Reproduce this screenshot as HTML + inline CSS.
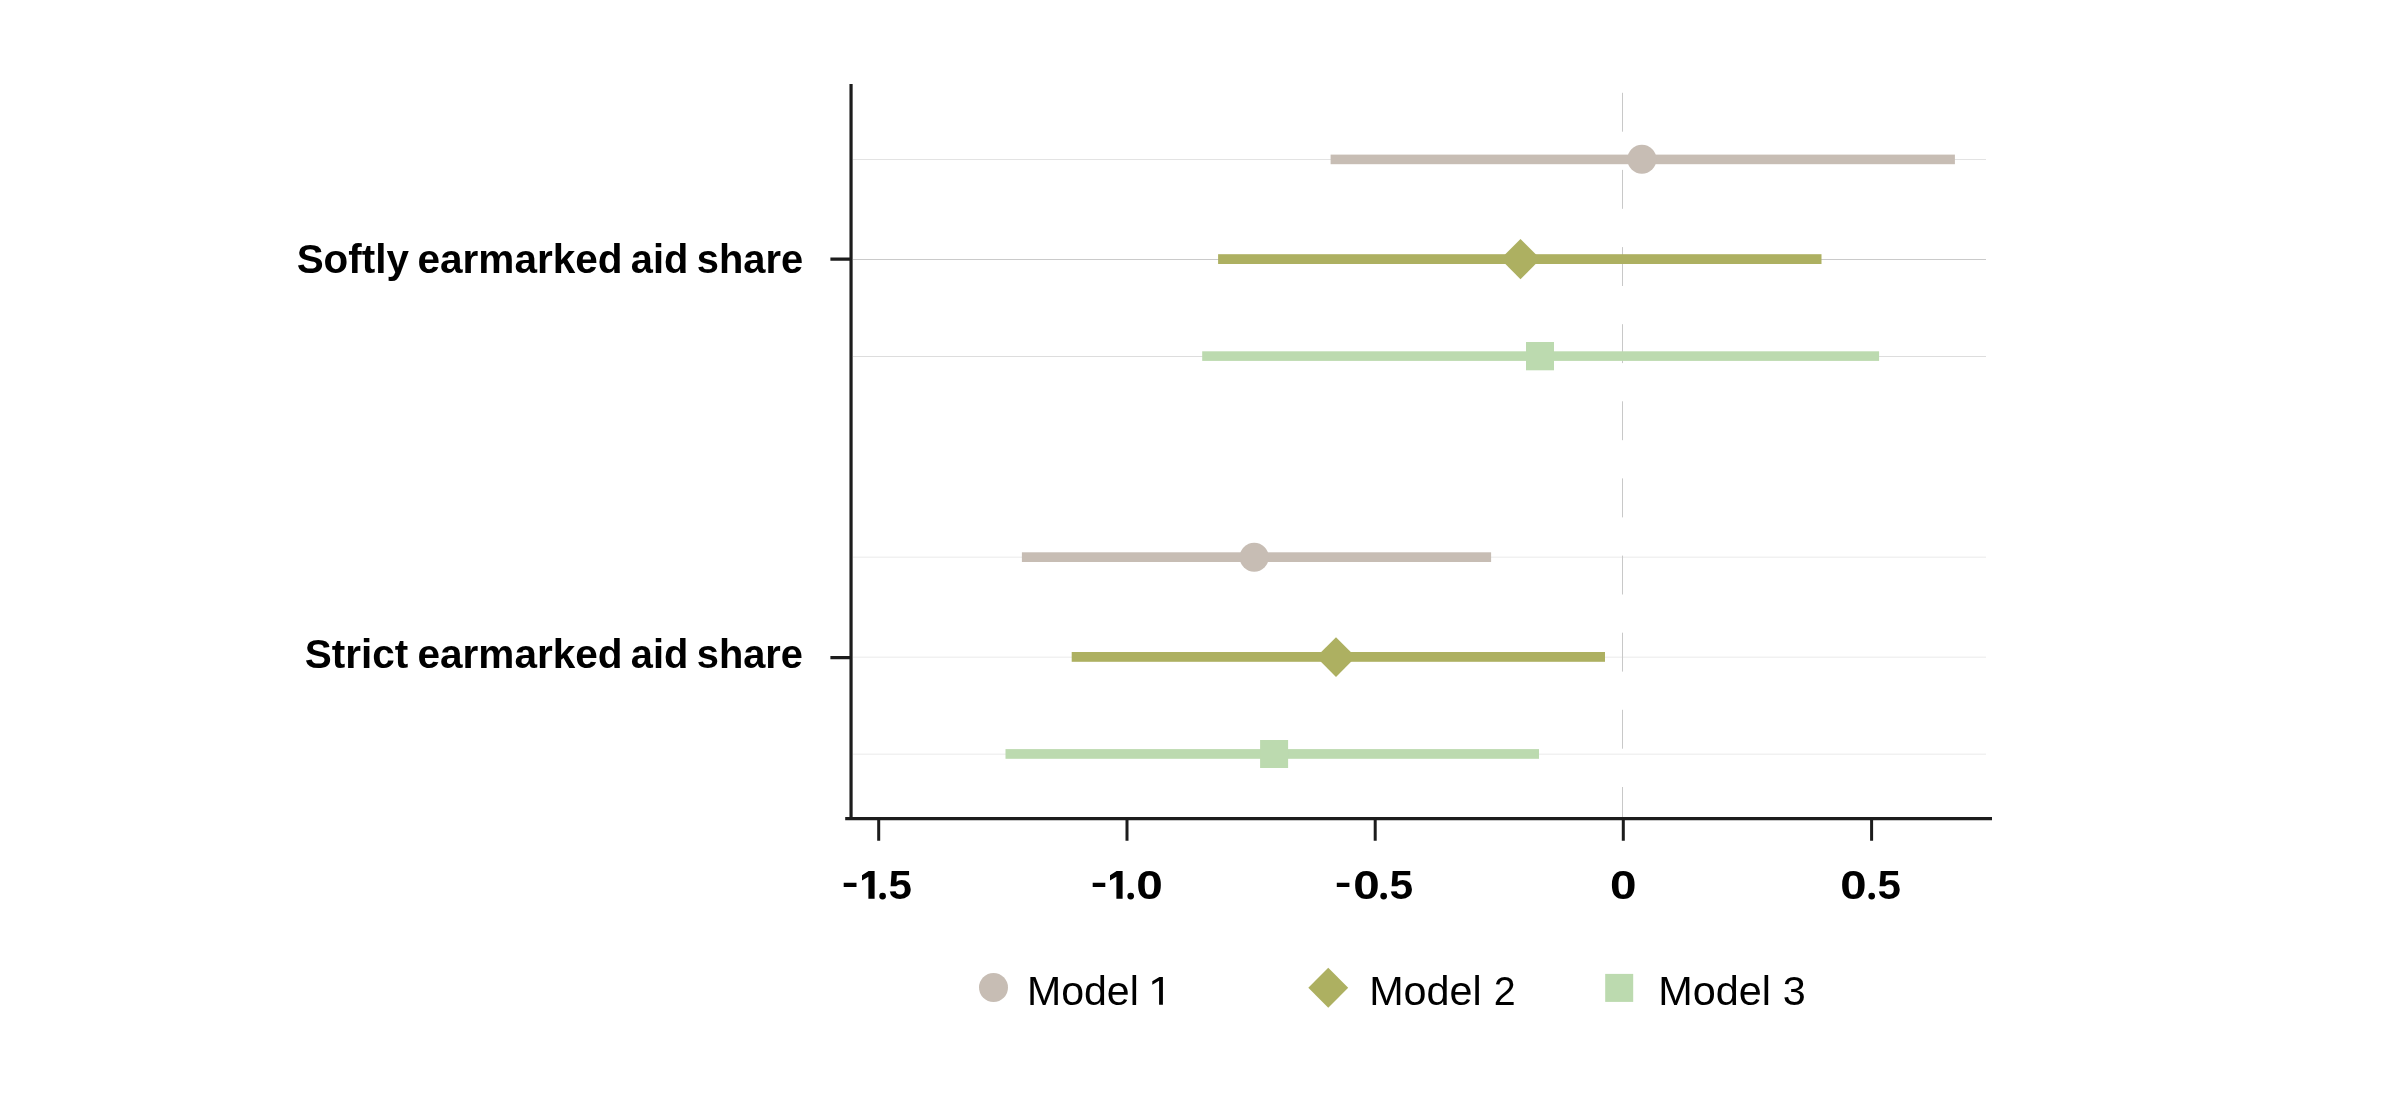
<!DOCTYPE html>
<html>
<head>
<meta charset="utf-8">
<style>
html,body{margin:0;padding:0;background:#ffffff;}
body{width:2405px;height:1095px;overflow:hidden;}
svg{display:block;will-change:transform;}
text{font-family:"Liberation Sans", sans-serif;fill:#000;}
</style>
</head>
<body>
<svg width="2405" height="1095" viewBox="0 0 2405 1095">

<g fill="none" stroke-width="1">
<path d="M853 159.5H1986" stroke="#e3e3e3"/>
<path d="M853 259.5H1986" stroke="#cacaca"/>
<path d="M853 356.5H1986" stroke="#dddddd"/>
<path d="M853 557.25H1986M853 657.25H1986M853 754.25H1986" stroke="#f1f1f1" stroke-width="1.5"/>
<path d="M1622.5 92.8V131.7 M1622.5 169.9V208.8 M1622.5 247.1V286.0 M1622.5 324.2V363.1 M1622.5 401.3V440.2 M1622.5 478.4V517.4 M1622.5 555.6V594.5 M1622.5 632.7V671.6 M1622.5 709.8V748.7 M1622.5 787.0V817.5" stroke="#c8c8c8"/>
</g>
<g fill="#c7bdb4">
<rect x="1330.6" y="154.6" width="624.3" height="9.6"/>
<circle cx="1641.9" cy="159.35" r="14.5"/>
<rect x="1021.9" y="552.3" width="469.2" height="9.7"/>
<circle cx="1254.2" cy="557.15" r="14.5"/>
<circle cx="993.5" cy="987.6" r="14.5"/>
</g>
<g fill="#adb061">
<rect x="1218.1" y="254.2" width="603.4" height="9.8"/>
<path d="M1520.5 239.00000000000003 L1540.6 259.1 L1520.5 279.20000000000005 L1500.4 259.1 Z"/>
<rect x="1071.7" y="652" width="533.3" height="9.8"/>
<path d="M1336 637.3000000000001 L1355.8 657.1 L1336 676.9 L1316.2 657.1 Z"/>
<path d="M1328.25 967.75 L1348.2 987.7 L1328.25 1007.6500000000001 L1308.3 987.7 Z"/>
</g>
<g fill="#bcdaaf">
<rect x="1202.2" y="351.3" width="676.9" height="9.6"/>
<rect x="1526" y="342" width="28" height="28.3"/>
<rect x="1005.5" y="749.1" width="533.5" height="9.7"/>
<rect x="1260.1" y="740" width="28" height="28"/>
<rect x="1605.2" y="973.9" width="28" height="28"/>
</g>
<g stroke="#1c1c1c" stroke-width="3" fill="none">
<path d="M851.05 84V820" stroke-width="3.2"/>
<path d="M845.2 818.6H1992" stroke-width="3.2"/>
<path d="M830.4 259.1H851M830.4 657.6H851" stroke-width="3.4"/>
<path d="M878.7 818V840.7M1127 818V840.7M1375.2 818V840.7M1623.3 818V840.7M1871.6 818V840.7"/>
</g>
<text id="w_soft1" transform="translate(296.67 272.9) scale(1.0099 1)" font-size="40.0" font-weight="bold">Softly</text>
<text id="w_soft2" transform="translate(417.47 272.9) scale(1.0136 1)" font-size="40.0" font-weight="bold">earmarked</text>
<text id="w_soft3" transform="translate(630.79 272.9) scale(0.9948 1)" font-size="40.0" font-weight="bold">aid</text>
<text id="w_soft4" transform="translate(696.72 272.9) scale(0.9965 1)" font-size="40.0" font-weight="bold">share</text>
<text id="w_str1" transform="translate(304.77 667.8) scale(1.0119 1)" font-size="40.0" font-weight="bold">Strict</text>
<text id="w_str2" transform="translate(417.47 667.8) scale(1.0136 1)" font-size="40.0" font-weight="bold">earmarked</text>
<text id="w_str3" transform="translate(630.79 667.8) scale(0.9948 1)" font-size="40.0" font-weight="bold">aid</text>
<text id="w_str4" transform="translate(696.76 667.8) scale(0.9953 1)" font-size="40.0" font-weight="bold">share</text>
<text id="g_a4" transform="translate(888.58 898.9) scale(1.0532 1)" font-size="40.0" font-weight="bold">5</text>
<text id="g_b4" transform="translate(1136.15 898.9) scale(1.1945 1)" font-size="40.0" font-weight="bold">0</text>
<text id="g_c2" transform="translate(1353.14 898.9) scale(1.1909 1)" font-size="40.0" font-weight="bold">0</text>
<text id="g_c4" transform="translate(1389.58 898.9) scale(1.0630 1)" font-size="40.0" font-weight="bold">5</text>
<text id="g_d1" transform="translate(1610.12 898.9) scale(1.1930 1)" font-size="40.0" font-weight="bold">0</text>
<text id="g_e1" transform="translate(1840.36 898.9) scale(1.1831 1)" font-size="40.0" font-weight="bold">0</text>
<text id="g_e3" transform="translate(1877.58 898.9) scale(1.0532 1)" font-size="40.0" font-weight="bold">5</text>
<text id="t_mod1" transform="translate(1027.01 1004.9) scale(1.0316 1)" font-size="39.8" font-weight="normal">Model</text>
<text id="t_mod2" transform="translate(1369.21 1004.9) scale(1.0374 1)" font-size="39.8" font-weight="normal">Model</text>
<text id="t_n2" transform="translate(1493.68 1004.9) scale(0.9907 1)" font-size="39.8" font-weight="normal">2</text>
<text id="t_mod3" transform="translate(1658.25 1004.9) scale(1.0401 1)" font-size="39.8" font-weight="normal">Model</text>
<text id="t_n3" transform="translate(1782.85 1004.9) scale(1.0392 1)" font-size="39.8" font-weight="normal">3</text>
<path d="M843.7 882.8h12.8v4.1h-12.8zM1092.7 882.8h12.6v4.1h-12.6zM1336.8 882.8h12.6v4.1h-12.6zM862.0 875.3L868.6 871H874.6V898.8H868.4V876.7L862.0 880.5ZM1110.0 875.3L1116.6 871H1122.6V898.8H1116.4V876.7L1110.0 880.5Z" fill="#000"/>
<g fill="#000"><circle cx="882.6" cy="896.1" r="3.35"/><circle cx="1130.7" cy="896.1" r="3.35"/><circle cx="1383.65" cy="896.1" r="3.35"/><circle cx="1871.7" cy="896.1" r="3.35"/></g>
<path d="M1152.3 981.3L1159.4 977.1H1162.9V1004.7H1159.1V980.8L1152.3 984.8Z" fill="#000"/>

</svg>
</body>
</html>
